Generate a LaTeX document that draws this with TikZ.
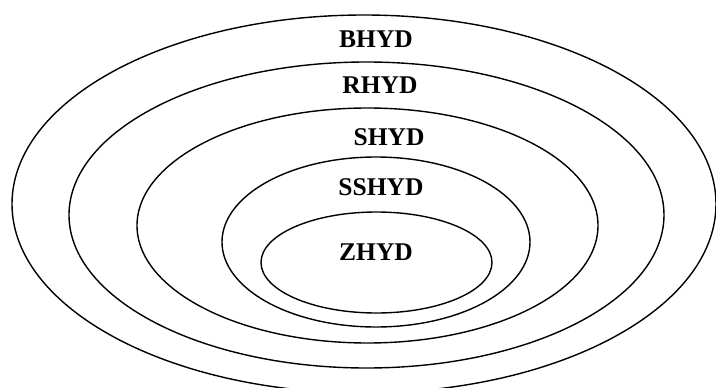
\documentclass[tikz,border=0pt]{standalone}
\usepackage{fontspec}
\setmainfont{Liberation Serif}
\begin{document}
\begin{tikzpicture}[x=1pt,y=-1pt,
  ring/.style={draw=black,line width=1.4pt},
  lbl/.style={anchor=base,inner sep=0pt,font=\fontsize{25.5}{28}\selectfont\bfseries}]
\useasboundingbox[fill=white] (0,0) rectangle (716,388);
\draw[ring] (364,204) ellipse [x radius=352, y radius=189];
\draw[ring] (366.5,215) ellipse [x radius=297.5, y radius=153];
\draw[ring] (367.5,225.5) ellipse [x radius=230.5, y radius=117.5];
\draw[ring] (376,242) ellipse [x radius=154, y radius=85];
\draw[ring] (376.5,262.5) ellipse [x radius=115.5, y radius=50.5];
\node[lbl] (b) at (376,47) {BHYD};
\node[lbl] (r) at (380,93) {RHYD};
\node[lbl] (s) at (389,145) {SHYD};
\node[lbl] (ss) at (381,195) {SSHYD};
\node[lbl] (z) at (376,260) {ZHYD};
\end{tikzpicture}
\end{document}
